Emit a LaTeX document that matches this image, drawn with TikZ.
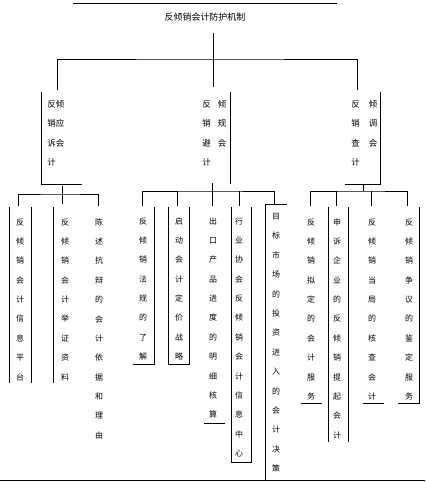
\documentclass[tikz,border=0pt]{standalone}
\usepackage{fontspec}
\setmainfont{Noto Sans CJK SC}
\begin{document}
\begin{tikzpicture}[x=1bp,y=-1bp,line width=0.8bp,
  vt/.style={inner sep=0pt,anchor=north,align=center,font=\fontsize{8}{19.45}\selectfont},
  lv/.style={inner sep=0pt,anchor=north west,align=left,font=\fontsize{8.5}{19.5}\selectfont},
  ttl/.style={inner sep=0pt,font=\fontsize{9}{10}\selectfont}]
\useasboundingbox (0,0) rectangle (425,482);
% top rule and title
\draw (73,3) -- (337,3);
\node[ttl] (root) at (205,17) {反倾销会计防护机制};
% level 1 connectors
\coordinate (rs) at (213,33);
\coordinate (rj) at (213,59);
\coordinate (ta) at (57,90);
\coordinate (tb) at (213,87);
\coordinate (tc) at (357,90);
\draw (rs) -- (tb);
\draw (ta) |- (rj) -| (tc);
% level 2 nodes
\node[lv] (A) at (47,100) {反倾\\销应\\诉会\\计};
\node[lv] (B) at (202,100) {反\hspace{7bp}倾\\销\hspace{7bp}规\\避\hspace{7bp}会\\计};
\node[lv] (C) at (351,100) {反\hspace{9bp}倾\\销\hspace{9bp}调\\查\hspace{9bp}会\\计};
\draw (41,92) -- (41,184) -- (82,184);
\draw (230,92) -- (230,184);
\draw (380,92) -- (380,184) -- (345,184);
% level 2 -> leaves connectors
\coordinate (As) at (62,186);
\coordinate (Aj) at (62,194);
\draw (As) -- (62,204);
\draw (18,206) |- (Aj) -| (98,206);
\coordinate (Bs) at (212,183);
\coordinate (Bj) at (212,191);
\draw (Bs) -- (212,206);
\draw (142,206) |- (Bj) -| (274,204);
\draw (177,191) -- (177,206);
\draw (239,191) -- (239,206);
\coordinate (Cs) at (363,184);
\coordinate (Cj) at (363,191);
\draw (Cs) -- (Cj);
\draw (310,206) |- (Cj) -| (407,206);
\draw (336,191) -- (336,206);
\draw (371,191) -- (371,206);
% leaves: left group
\node[vt] (a1) at (20,218) {反\\倾\\销\\会\\计\\信\\息\\平\\台};
\draw (9,207) -- (9,383);
\draw (31,207) -- (31,383);
\node[vt] (a2) at (65,218) {反\\倾\\销\\会\\计\\举\\证\\资\\料};
\draw (53,207) -- (53,383);
\node[vt] (a3) at (99,218) {陈\\述\\抗\\辩\\的\\会\\计\\依\\据\\和\\理\\由};
% leaves: middle group
\node[vt] (b1) at (143,217) {反\\倾\\销\\法\\规\\的\\了\\解};
\draw (154,207) -- (154,364) -- (133,364);
\node[vt] (b2) at (179,217) {启\\动\\会\\计\\定\\价\\战\\略};
\draw (168,207) -- (168,364) -- (189,364) -- (189,207);
\node[vt] (b3) at (213,217) {出\\口\\产\\品\\进\\度\\的\\明\\细\\核\\算};
\draw (204,423) -- (225,423);
\node[vt] (b4) at (239,217) {行\\业\\协\\会\\反\\倾\\销\\会\\计\\信\\息\\中\\心};
\draw (231,207) -- (231,462) -- (251,462) -- (251,207);
\node[vt] (b5) at (276,213) {目\\标\\市\\场\\的\\投\\资\\进\\入\\的\\会\\计\\决\\策};
\draw (287,204) -- (265,204) -- (265,480);
% leaves: right group
\node[vt] (c1) at (311,218) {反\\倾\\销\\拟\\定\\的\\会\\计\\服\\务};
\draw (301,403) -- (322,403);
\node[vt] (c2) at (337,218) {申\\诉\\企\\业\\的\\反\\倾\\销\\提\\起\\会\\计};
\draw (328,207) -- (328,442);
\draw (348,207) -- (348,442);
\node[vt] (c3) at (372,218) {反\\倾\\销\\当\\局\\的\\核\\查\\会\\计};
\draw (363,403) -- (384,403);
\node[vt] (c4) at (409,218) {反\\倾\\销\\争\\议\\的\\鉴\\定\\服\\务};
\draw (419,207) -- (419,403) -- (398,403);
% bottom rule
\draw[line width=1.2bp] (0,480.5) -- (425,480.5);
\end{tikzpicture}
\end{document}
